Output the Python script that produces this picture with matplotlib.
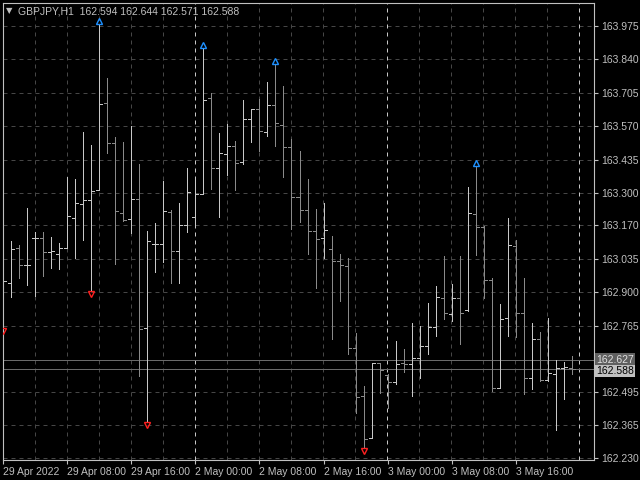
import matplotlib
matplotlib.use('Agg')
import matplotlib.pyplot as plt
import numpy as np

plt.rcParams['font.family'] = ['Liberation Sans', 'DejaVu Sans']

# GBPJPY H1 bars, 29 Apr 2022 00:00 onwards
opens = [162.864, 162.938, 163.080, 163.008, 163.117, 163.117, 163.064, 163.056, 163.077, 163.201,
         163.255, 163.271, 163.311, 163.663, 163.501, 163.220, 163.194, 163.276, 162.757, 163.093,
         163.093, 163.225, 163.066, 163.171, 163.204, 163.295, 163.683, 163.400, 163.457, 163.489,
         163.424, 163.599, 163.639, 163.547, 163.655, 163.574, 163.486, 163.283, 163.231, 163.147,
         163.119, 163.074, 163.026, 163.004, 162.673, 162.479, 162.310, 162.614, 162.566, 162.537,
         162.614, 162.611, 162.633, 162.681, 162.759, 162.878, 162.813, 162.878, 162.827, 163.217,
         163.163, 162.948, 162.514, 162.797, 163.087, 162.815, 162.552, 162.710, 162.544, 162.571,
         162.595, 162.594]
highs = [162.999, 163.107, 163.091, 163.239, 163.144, 163.144, 163.123, 163.099, 163.365, 163.357,
         163.547, 163.494, 163.982, 163.764, 163.527, 163.507, 163.570, 163.416, 163.147, 163.179,
         163.349, 163.231, 163.260, 163.403, 163.365, 163.888, 163.704, 163.543, 163.581, 163.511,
         163.676, 163.640, 163.679, 163.749, 163.823, 163.733, 163.519, 163.470, 163.356, 163.235,
         163.260, 163.127, 163.053, 163.039, 162.734, 162.521, 162.614, 162.614, 162.568, 162.703,
         162.671, 162.776, 162.765, 162.856, 162.925, 163.045, 162.932, 163.045, 163.325, 163.410,
         163.166, 162.956, 162.851, 163.198, 163.112, 162.959, 162.776, 162.739, 162.797, 162.627,
         162.619, 162.644]
lows = [162.757, 162.881, 162.956, 162.929, 162.886, 162.967, 162.999, 162.994, 163.077, 163.039,
        163.112, 162.905, 163.311, 163.463, 163.012, 163.187, 163.139, 162.563, 162.377, 162.983,
        163.021, 162.937, 162.937, 163.144, 163.167, 163.295, 163.318, 163.205, 163.375, 163.313,
        163.419, 163.508, 163.470, 163.532, 163.490, 163.367, 163.155, 163.183, 163.056, 162.918,
        163.037, 162.712, 162.864, 162.649, 162.411, 162.272, 162.310, 162.491, 162.434, 162.528,
        162.579, 162.481, 162.555, 162.652, 162.722, 162.793, 162.784, 162.692, 162.824, 163.050,
        162.878, 162.501, 162.514, 162.722, 162.719, 162.487, 162.510, 162.541, 162.541, 162.342,
        162.467, 162.571]
closes = [162.945, 163.073, 163.008, 163.008, 163.117, 163.064, 163.066, 163.077, 163.206, 163.260,
          163.274, 163.309, 163.659, 163.501, 163.227, 163.190, 163.276, 162.750, 163.107, 163.093,
          163.228, 163.066, 163.171, 163.303, 163.298, 163.678, 163.400, 163.461, 163.489, 163.422,
          163.599, 163.639, 163.552, 163.655, 163.582, 163.486, 163.283, 163.231, 163.147, 163.113,
          163.150, 163.026, 163.008, 162.673, 162.475, 162.306, 162.614, 162.584, 162.537, 162.611,
          162.611, 162.633, 162.681, 162.759, 162.881, 162.817, 162.878, 162.816, 163.220, 163.163,
          162.948, 162.514, 162.790, 163.091, 162.815, 162.552, 162.710, 162.544, 162.575, 162.595,
          162.598, 162.588]

fractal_up = [12, 25, 34, 59]
fractal_down = [0, 11, 18, 45]

price_ticks = [163.975, 163.840, 163.705, 163.570, 163.435, 163.300, 163.170, 163.035,
               162.900, 162.765, 162.495, 162.365, 162.230]
time_labels = ['29 Apr 2022', '29 Apr 08:00', '29 Apr 16:00', '2 May 00:00', '2 May 08:00',
               '2 May 16:00', '3 May 00:00', '3 May 08:00', '3 May 16:00']
ask_price = 162.627
bid_price = 162.588

fig = plt.figure(figsize=(6.4, 4.8), dpi=100, facecolor='black')
ax = fig.add_axes([3 / 640, 1 - 460 / 480, 591 / 640, 457 / 480], facecolor='black')

x = np.arange(len(opens))
ax.set_xlim(-0.05, 73.8)
ax.set_ylim(162.222, 164.068)

# grid
for p in price_ticks:
    ax.axhline(p, color='#464646', lw=0.72, ls=(0, (4, 4)), zorder=0)
for k in range(4, 74, 4):
    c = '#c8c8c8' if k % 24 == 0 else '#464646'
    ax.axvline(k - 0.05, color=c, lw=0.72, ls=(0, (4, 4)), zorder=0)

ax.axhline(ask_price, color='#6a6a6a', lw=0.72, zorder=1)
ax.axhline(bid_price, color='#6a6a6a', lw=0.72, zorder=1)

cols = ['#c8c8c8' if c >= o else '#8a8a8a' for o, c in zip(opens, closes)]
ax.vlines(x, lows, highs, colors=cols, lw=0.72, zorder=2, antialiased=False)
ax.hlines(opens, x - 0.375, x, colors=cols, lw=0.72, zorder=2, antialiased=False)
ax.hlines(closes, x, x + 0.375, colors=cols, lw=0.72, zorder=2, antialiased=False)

for i in fractal_up:
    ax.plot(i, highs[i] + 0.012, marker='^', color='#1e90ff', ms=5, mfc='none', mew=1, zorder=3)
for i in fractal_down:
    ax.plot(i, lows[i] - 0.012, marker='v', color='#ff2020', ms=5, mfc='none', mew=1, zorder=3)

for s in ax.spines.values():
    s.set_color('#c0c0c0')
    s.set_linewidth(0.8)

ax.yaxis.tick_right()
ax.set_yticks(price_ticks)
ax.set_yticklabels([f'{p:.3f}' for p in price_ticks])
ax.set_xticks(np.arange(0, 72, 8))
ax.set_xticklabels(time_labels, ha='left')
ax.tick_params(colors='#c0c0c0', labelsize=7.5, length=3, width=0.8, pad=2)

ax.text(1.003, ask_price, f'{ask_price:.3f}', transform=ax.get_yaxis_transform(), fontsize=7.5,
        color='#e0e0e0', va='center', ha='left',
        bbox=dict(boxstyle='square,pad=0.12', fc='#606060', ec='none'))
ax.text(1.003, bid_price - 0.006, f'{bid_price:.3f}', transform=ax.get_yaxis_transform(), fontsize=7.5,
        color='black', va='center', ha='left',
        bbox=dict(boxstyle='square,pad=0.12', fc='#c0c0c0', ec='none'))

fig.text(18 / 640, 1 - 11 / 480, 'GBPJPY,H1  162.594 162.644 162.571 162.588', fontsize=7.5,
         color='#c0c0c0', va='center')
fig.text(6 / 640, 1 - 11 / 480, '▼', fontsize=6, color='#c0c0c0', va='center', family='DejaVu Sans')

fig.savefig('out.png', dpi=100, facecolor='black')
